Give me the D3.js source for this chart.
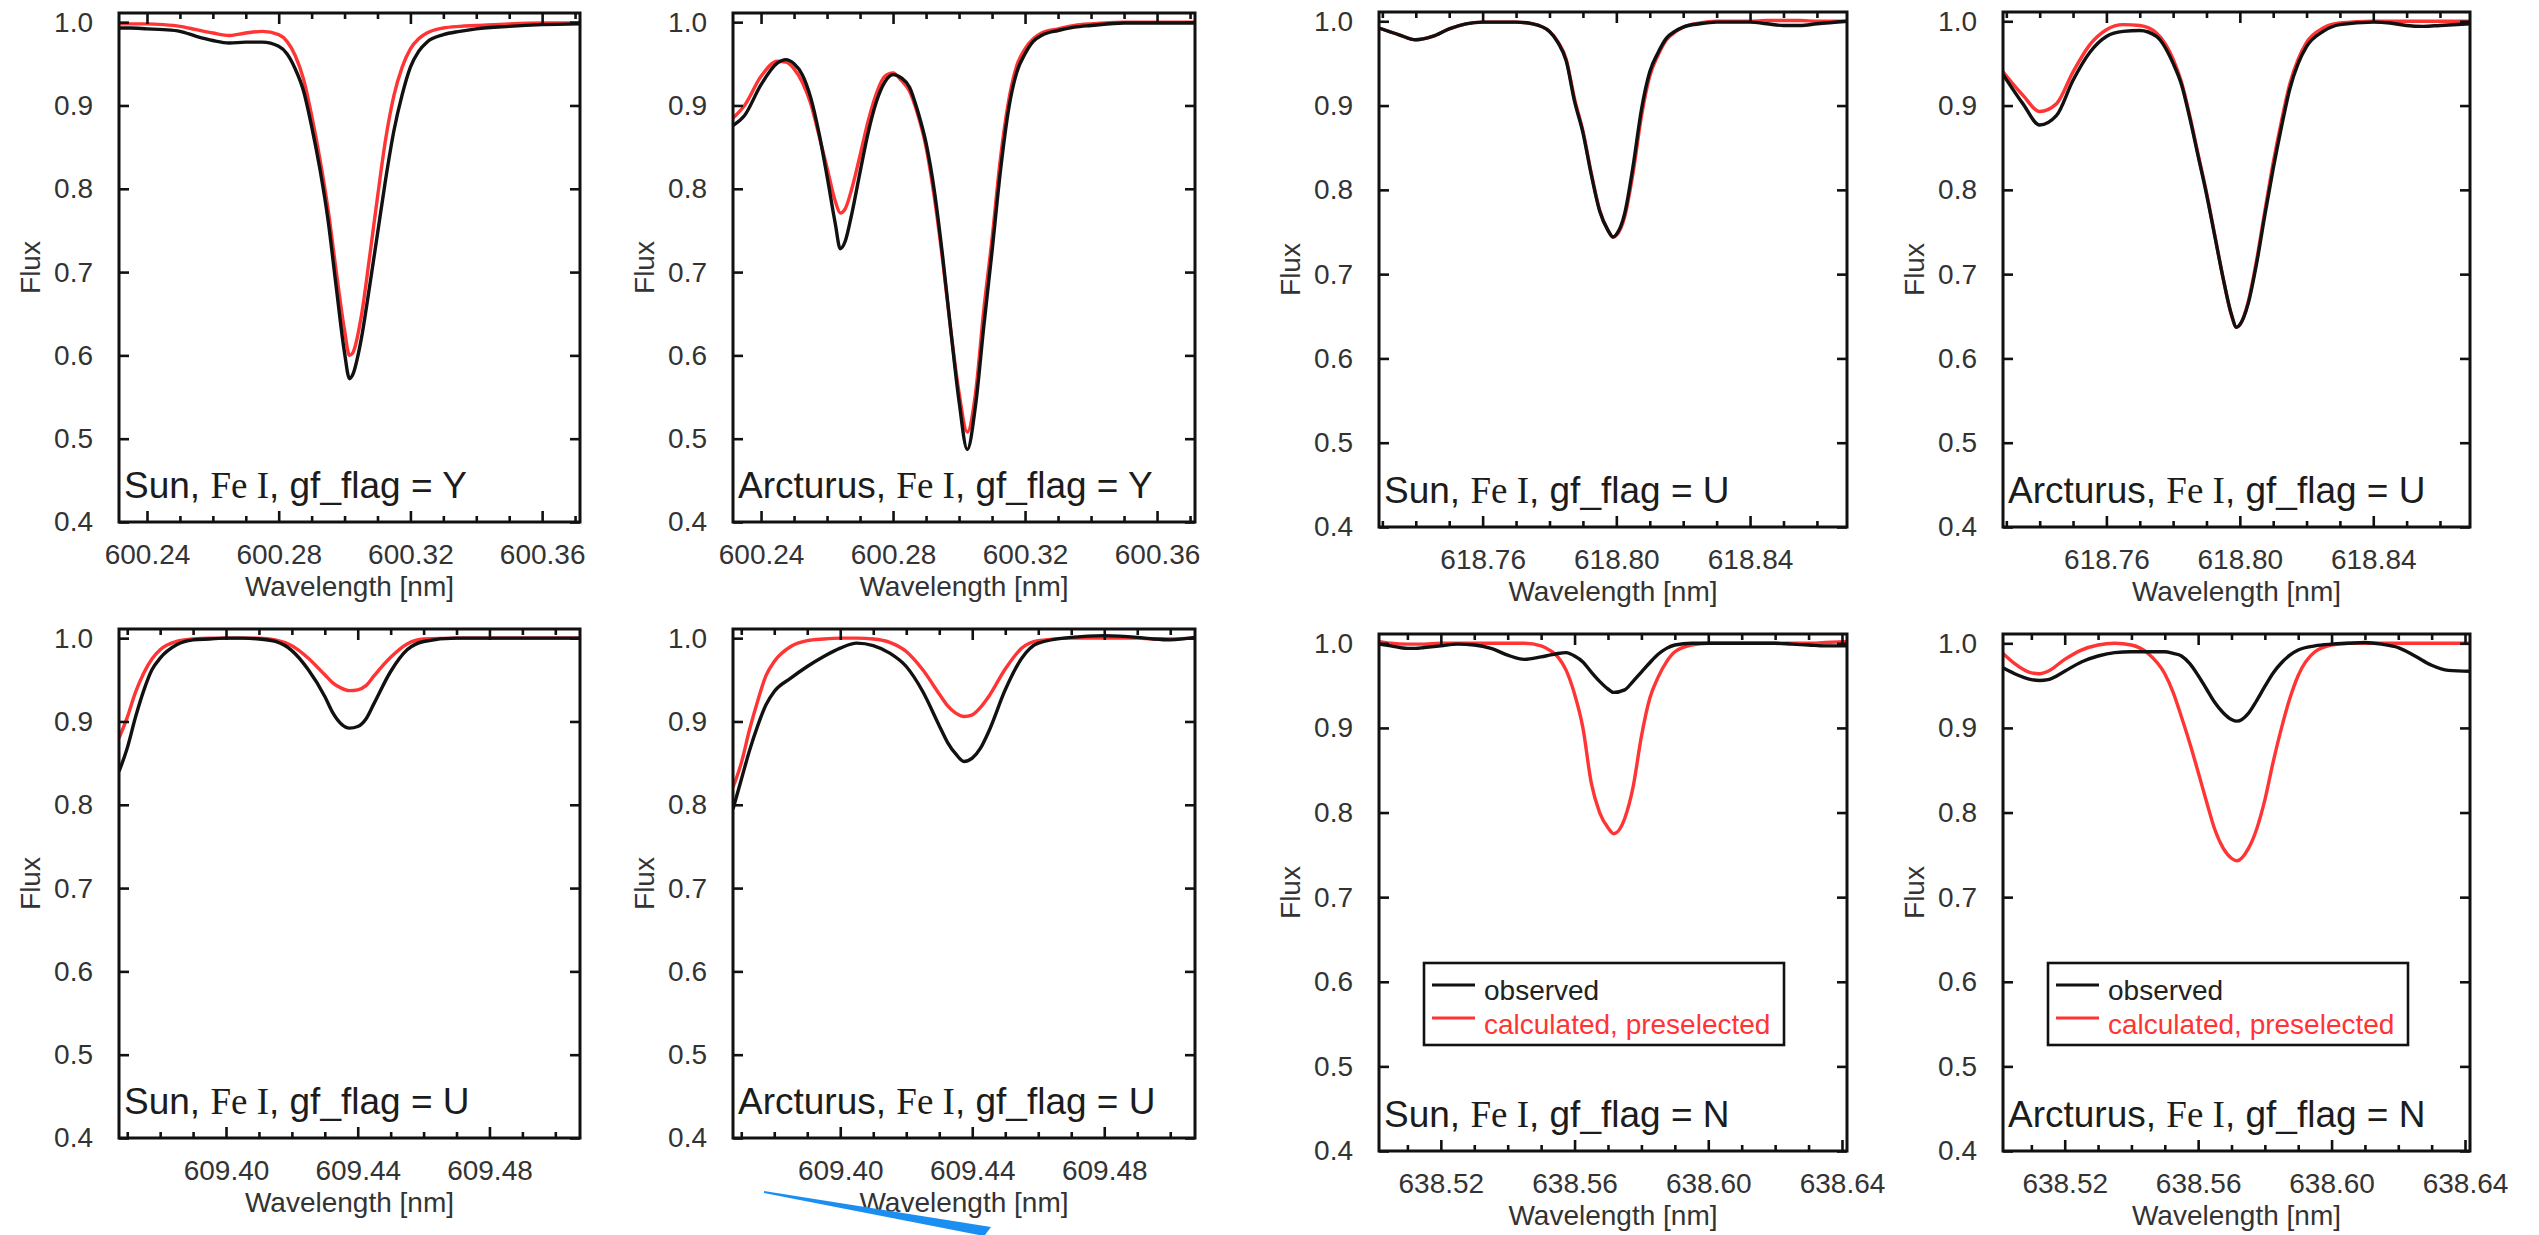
<!DOCTYPE html>
<html>
<head>
<meta charset="utf-8">
<script src="https://cdn.jsdelivr.net/npm/d3@7"></script>
<style>
  html, body { margin: 0; padding: 0; background: #fff; }
  svg { display: block; }
</style>
</head>
<body>
<svg id="chart" width="2539" height="1235"></svg>
<script>
// ---------- spectra: wavelength grids [nm] and normalised flux ----------

// Fe I 600.30 nm
const wave6003 = [600.2315, 600.235, 600.24, 600.245, 600.25, 600.255, 600.26, 600.265, 600.27, 600.275,
  600.28, 600.2825, 600.285, 600.2875, 600.29, 600.2925, 600.295, 600.2975, 600.30, 600.3015,
  600.3025, 600.305, 600.3075, 600.31, 600.3125, 600.315, 600.3175, 600.32, 600.3225, 600.325,
  600.33, 600.335, 600.34, 600.35, 600.36, 600.3715];
const obsSun6003 = [0.993, 0.993, 0.992, 0.991, 0.989, 0.983, 0.978, 0.975, 0.976, 0.976,
  0.971, 0.962, 0.944, 0.918, 0.875, 0.824, 0.762, 0.681, 0.603, 0.572,
  0.577, 0.618, 0.680, 0.746, 0.812, 0.870, 0.913, 0.946, 0.965, 0.976,
  0.985, 0.989, 0.992, 0.995, 0.997, 0.998];
const calcSun6003 = [0.998, 0.998, 0.998, 0.997, 0.995, 0.991, 0.987, 0.984, 0.987, 0.989,
  0.985, 0.977, 0.960, 0.932, 0.888, 0.836, 0.775, 0.700, 0.630, 0.600,
  0.603, 0.645, 0.715, 0.790, 0.860, 0.912, 0.946, 0.968, 0.980, 0.987,
  0.993, 0.995, 0.996, 0.998, 0.999, 0.999];

const waveArc6003 = [600.2315, 600.235, 600.24, 600.245, 600.2475, 600.25, 600.2525, 600.255, 600.2575, 600.26,
  600.2625, 600.264, 600.2655, 600.2675, 600.27, 600.2725, 600.275, 600.2775, 600.28, 600.2825,
  600.285, 600.2875, 600.29, 600.2925, 600.295, 600.2975, 600.30, 600.3025, 600.305, 600.3075,
  600.31, 600.3125, 600.315, 600.3175, 600.32, 600.3225, 600.325, 600.33, 600.335, 600.34,
  600.35, 600.36, 600.3715];
const obsArc6003 = [0.876, 0.888, 0.925, 0.951, 0.955, 0.950, 0.937, 0.910, 0.868, 0.815,
  0.758, 0.728, 0.737, 0.770, 0.820, 0.868, 0.905, 0.928, 0.937, 0.933,
  0.922, 0.893, 0.855, 0.798, 0.720, 0.630, 0.545, 0.487, 0.540, 0.635,
  0.725, 0.820, 0.895, 0.940, 0.962, 0.977, 0.984, 0.990, 0.994, 0.996,
  0.999, 0.999, 0.999];
const calcArc6003 = [0.885, 0.900, 0.935, 0.953, 0.952, 0.944, 0.928, 0.903, 0.865, 0.825,
  0.785, 0.771, 0.776, 0.800, 0.840, 0.882, 0.915, 0.935, 0.939, 0.930,
  0.917, 0.889, 0.850, 0.790, 0.715, 0.630, 0.555, 0.508, 0.555, 0.655,
  0.740, 0.835, 0.905, 0.948, 0.968, 0.980, 0.987, 0.992, 0.996, 0.998,
  1.000, 1.000, 1.000];

// Fe I 618.80 nm
const wave6188 = [618.729, 618.735, 618.74, 618.745, 618.75, 618.755, 618.76, 618.765, 618.77, 618.775,
  618.78, 618.7825, 618.785, 618.7875, 618.79, 618.7925, 618.795, 618.7975, 618.799, 618.80,
  618.8025, 618.805, 618.8075, 618.81, 618.8125, 618.815, 618.8175, 618.82, 618.825, 618.83,
  618.84, 618.845, 618.85, 618.855, 618.86, 618.869];
const obsSun6188 = [0.992, 0.984, 0.978, 0.982, 0.991, 0.997, 0.999, 0.999, 0.999, 0.997,
  0.988, 0.975, 0.953, 0.905, 0.868, 0.818, 0.775, 0.752, 0.744, 0.747,
  0.772, 0.828, 0.895, 0.940, 0.963, 0.980, 0.988, 0.993, 0.997, 0.999,
  0.999, 0.997, 0.995, 0.995, 0.997, 1.000];
const calcSun6188 = [0.992, 0.984, 0.978, 0.982, 0.991, 0.997, 0.999, 0.999, 0.999, 0.997,
  0.988, 0.976, 0.955, 0.908, 0.870, 0.820, 0.776, 0.752, 0.744, 0.746,
  0.768, 0.820, 0.887, 0.935, 0.960, 0.978, 0.987, 0.993, 0.998, 1.000,
  1.000, 1.001, 1.001, 1.001, 1.000, 1.000];
const obsArc6188 = [0.937, 0.902, 0.877, 0.888, 0.930, 0.963, 0.982, 0.988, 0.989, 0.982,
  0.950, 0.925, 0.885, 0.840, 0.795, 0.745, 0.695, 0.652, 0.637, 0.640,
  0.665, 0.712, 0.770, 0.825, 0.875, 0.920, 0.950, 0.970, 0.988, 0.996,
  0.999, 0.998, 0.995, 0.994, 0.995, 0.997];
const calcArc6188 = [0.940, 0.912, 0.893, 0.902, 0.940, 0.972, 0.990, 0.996, 0.995, 0.986,
  0.955, 0.928, 0.888, 0.842, 0.797, 0.746, 0.695, 0.651, 0.637, 0.640,
  0.667, 0.716, 0.775, 0.832, 0.882, 0.926, 0.955, 0.975, 0.992, 0.998,
  1.000, 1.000, 1.000, 1.000, 1.000, 1.000];

// Fe I 609.44 nm
const wave6094 = [609.3675, 609.37, 609.3725, 609.375, 609.3775, 609.38, 609.385, 609.39, 609.395, 609.40,
  609.405, 609.41, 609.415, 609.42, 609.425, 609.43, 609.4325, 609.435, 609.4375, 609.44,
  609.4425, 609.445, 609.45, 609.455, 609.46, 609.47, 609.48, 609.49, 609.495, 609.50, 609.5075];
const obsSun6094 = [0.840, 0.868, 0.905, 0.937, 0.962, 0.976, 0.992, 0.998, 0.999, 1.000,
  1.000, 0.999, 0.996, 0.985, 0.962, 0.930, 0.910, 0.897, 0.892, 0.894,
  0.903, 0.922, 0.960, 0.986, 0.996, 1.000, 1.000, 1.000, 1.000, 1.000, 1.000];
const calcSun6094 = [0.880, 0.905, 0.935, 0.958, 0.975, 0.986, 0.996, 0.999, 1.000, 1.000,
  1.000, 1.000, 0.998, 0.991, 0.976, 0.956, 0.946, 0.940, 0.937, 0.938,
  0.943, 0.955, 0.977, 0.993, 0.999, 1.000, 1.000, 1.000, 1.000, 1.000, 1.000];
const obsArc6094 = [0.795, 0.830, 0.865, 0.895, 0.920, 0.936, 0.952, 0.966, 0.978, 0.988,
  0.994, 0.991, 0.982, 0.966, 0.936, 0.895, 0.875, 0.861, 0.852, 0.856,
  0.868, 0.888, 0.938, 0.976, 0.994, 1.001, 1.003, 1.001, 0.999, 0.998, 1.001];
const calcArc6094 = [0.821, 0.850, 0.890, 0.925, 0.955, 0.972, 0.990, 0.997, 0.999, 1.000,
  1.000, 0.999, 0.995, 0.984, 0.962, 0.933, 0.919, 0.910, 0.906, 0.908,
  0.917, 0.930, 0.963, 0.988, 0.997, 1.000, 1.000, 1.000, 0.999, 0.999, 1.000];

// Fe I 638.57 nm
const wave6386 = [638.5015, 638.505, 638.51, 638.5125, 638.515, 638.52, 638.525, 638.53, 638.535, 638.54,
  638.545, 638.55, 638.5525, 638.555, 638.5575, 638.56, 638.5625, 638.565, 638.5675, 638.57,
  638.5717, 638.575, 638.5775, 638.58, 638.5825, 638.585, 638.5875, 638.59, 638.595, 638.60,
  638.605, 638.61, 638.615, 638.62, 638.625, 638.63, 638.635, 638.6415];
const obsSun6386 = [0.999, 0.997, 0.994, 0.994, 0.995, 0.997, 0.999, 0.998, 0.994, 0.986,
  0.981, 0.984, 0.986, 0.988, 0.989, 0.985, 0.978, 0.966, 0.955, 0.946,
  0.942, 0.945, 0.955, 0.966, 0.977, 0.987, 0.994, 0.998, 1.000, 1.000,
  1.000, 1.000, 1.000, 1.000, 0.999, 0.998, 0.997, 0.997];
const calcSun6386 = [1.002, 1.000, 0.999, 0.999, 0.999, 1.000, 1.000, 1.000, 1.000, 1.000,
  1.000, 0.997, 0.992, 0.984, 0.968, 0.940, 0.900, 0.835, 0.800, 0.782,
  0.775, 0.793, 0.830, 0.890, 0.935, 0.960, 0.978, 0.990, 0.998, 1.000,
  1.000, 1.000, 1.000, 1.000, 1.000, 1.000, 1.001, 1.002];
const obsArc6386 = [0.971, 0.964, 0.957, 0.956, 0.957, 0.967, 0.978, 0.985, 0.989, 0.990,
  0.990, 0.990, 0.988, 0.985, 0.976, 0.962, 0.946, 0.930, 0.918, 0.910,
  0.908, 0.917, 0.932, 0.949, 0.965, 0.977, 0.986, 0.992, 0.997, 0.999,
  1.000, 1.001, 0.999, 0.995, 0.985, 0.974, 0.968, 0.967];
const calcArc6386 = [0.988, 0.976, 0.965, 0.964, 0.967, 0.981, 0.992, 0.998, 1.000, 0.998,
  0.988, 0.964, 0.942, 0.913, 0.882, 0.848, 0.813, 0.780, 0.758, 0.746,
  0.743, 0.757, 0.780, 0.815, 0.860, 0.900, 0.935, 0.962, 0.990, 0.998,
  1.000, 1.000, 1.000, 1.000, 1.000, 1.000, 1.000, 1.000];

// ---------- axes ----------
const fluxRange = [0.4, 1.011];
const fluxTicks = [0.4, 0.5, 0.6, 0.7, 0.8, 0.9, 1.0];
const range6003 = [600.2315, 600.3715];
const range6188 = [618.729, 618.869];
const range6094 = [609.3675, 609.5075];
const range6386 = [638.5015, 638.6415];
const ticks6003 = [600.24, 600.28, 600.32, 600.36];
const ticks6188 = [618.76, 618.80, 618.84];
const ticks6094 = [609.40, 609.44, 609.48];
const ticks6386 = [638.52, 638.56, 638.60, 638.64];

const seriesNames = ["observed", "calculated, preselected"];

const panels = [
  { star: "Sun",      flag: "Y", wave: wave6003,    obs: obsSun6003, calc: calcSun6003, xr: range6003, xt: ticks6003 },
  { star: "Arcturus", flag: "Y", wave: waveArc6003, obs: obsArc6003, calc: calcArc6003, xr: range6003, xt: ticks6003 },
  { star: "Sun",      flag: "U", wave: wave6188,    obs: obsSun6188, calc: calcSun6188, xr: range6188, xt: ticks6188 },
  { star: "Arcturus", flag: "U", wave: wave6188,    obs: obsArc6188, calc: calcArc6188, xr: range6188, xt: ticks6188 },
  { star: "Sun",      flag: "U", wave: wave6094,    obs: obsSun6094, calc: calcSun6094, xr: range6094, xt: ticks6094 },
  { star: "Arcturus", flag: "U", wave: wave6094,    obs: obsArc6094, calc: calcArc6094, xr: range6094, xt: ticks6094 },
  { star: "Sun",      flag: "N", wave: wave6386,    obs: obsSun6386, calc: calcSun6386, xr: range6386, xt: ticks6386, legend: true },
  { star: "Arcturus", flag: "N", wave: wave6386,    obs: obsArc6386, calc: calcArc6386, xr: range6386, xt: ticks6386, legend: true }
];

// plot frames: [left, top, right, bottom] in page pixels
const frames = [
  [119, 13, 580, 522], [733, 13, 1195, 522], [1379, 12, 1847, 527], [2003, 12, 2470, 527],
  [119, 629, 580, 1138], [733, 629, 1195, 1138], [1379, 634, 1847, 1151], [2003, 634, 2470, 1151]
];

const SANS = "'Liberation Sans', Arial, Helvetica, sans-serif";
const SERIF = "'Liberation Serif', 'Times New Roman', serif";
const INK = "#111";
const LABEL = "#333";
const RED = "#ff3434";

const svg = d3.select("#chart");
svg.append("rect").attr("width", 2539).attr("height", 1235).attr("fill", "#fff");

function styleAxis(sel) {
  sel.select(".domain").remove();
  sel.selectAll(".tick line").attr("stroke", INK).attr("stroke-width", 2.6);
  sel.selectAll(".tick text")
    .attr("fill", LABEL)
    .style("font-family", SANS)
    .style("font-size", "28px");
}

panels.forEach((p, i) => {
  const [L, T, R, B] = frames[i];
  const x = d3.scaleLinear().domain(p.xr).range([L, R]);
  const y = d3.scaleLinear().domain(fluxRange).range([B, T]);
  const g = svg.append("g").attr("class", "panel");

  const clipId = "clip" + i;
  g.append("clipPath").attr("id", clipId)
    .append("rect").attr("x", L).attr("y", T).attr("width", R - L).attr("height", B - T);

  const line = d3.line()
    .x(d => x(d[0]))
    .y(d => y(d[1]))
    .curve(d3.curveMonotoneX);

  const curves = g.append("g").attr("clip-path", `url(#${clipId})`);
  curves.append("path")
    .datum(d3.zip(p.wave, p.calc))
    .attr("d", line)
    .attr("fill", "none").attr("stroke", RED).attr("stroke-width", 3.4)
    .attr("stroke-linejoin", "round");
  curves.append("path")
    .datum(d3.zip(p.wave, p.obs))
    .attr("d", line)
    .attr("fill", "none").attr("stroke", INK).attr("stroke-width", 3.4)
    .attr("stroke-linejoin", "round");

  // minor wavelength ticks every 0.01 nm
  const minor = d3.range(Math.ceil(p.xr[0] * 100 - 1e-6), Math.floor(p.xr[1] * 100 + 1e-6) + 1)
    .map(v => v / 100)
    .filter(v => !p.xt.some(t => Math.abs(t - v) < 1e-6));

  g.append("g").attr("transform", `translate(0,${B})`)
    .call(d3.axisBottom(x).tickValues(p.xt).tickFormat(d3.format(".2f"))
      .tickSize(-11).tickSizeOuter(0).tickPadding(22))
    .call(styleAxis);
  g.append("g").attr("transform", `translate(0,${B})`)
    .call(d3.axisBottom(x).tickValues(minor).tickFormat("").tickSize(-6).tickSizeOuter(0))
    .call(styleAxis);
  g.append("g").attr("transform", `translate(0,${T})`)
    .call(d3.axisTop(x).tickValues(p.xt).tickFormat("").tickSize(-11).tickSizeOuter(0))
    .call(styleAxis);
  g.append("g").attr("transform", `translate(0,${T})`)
    .call(d3.axisTop(x).tickValues(minor).tickFormat("").tickSize(-6).tickSizeOuter(0))
    .call(styleAxis);
  g.append("g").attr("transform", `translate(${L},0)`)
    .call(d3.axisLeft(y).tickValues(fluxTicks).tickFormat(d3.format(".1f"))
      .tickSize(-10).tickSizeOuter(0).tickPadding(26))
    .call(styleAxis);
  g.append("g").attr("transform", `translate(${R},0)`)
    .call(d3.axisRight(y).tickValues(fluxTicks).tickFormat("").tickSize(-10).tickSizeOuter(0))
    .call(styleAxis);

  g.append("rect")
    .attr("x", L).attr("y", T).attr("width", R - L).attr("height", B - T)
    .attr("fill", "none").attr("stroke", INK).attr("stroke-width", 3);

  // axis titles
  g.append("text")
    .attr("x", (L + R) / 2).attr("y", B + 64).attr("dy", "0.35em")
    .attr("text-anchor", "middle").attr("fill", LABEL)
    .style("font-family", SANS).style("font-size", "28px")
    .text("Wavelength [nm]");
  g.append("text")
    .attr("transform", `translate(${L - 89},${(T + B) / 2}) rotate(-90)`)
    .attr("dy", "0.35em").attr("text-anchor", "middle").attr("fill", LABEL)
    .style("font-family", SANS).style("font-size", "28px")
    .text("Flux");

  // star / species / flag caption
  const cap = g.append("text")
    .attr("x", L + 5).attr("y", B - 24)
    .attr("fill", "#1c1c1c")
    .style("font-family", SANS).style("font-size", "37px")
    .style("white-space", "pre");
  cap.append("tspan").text(p.star + ", ");
  cap.append("tspan").style("font-family", SERIF).text("Fe I");
  cap.append("tspan").text(", gf_flag = " + p.flag);

  if (p.legend) {
    const lx = L + 45, ly = T + 329;
    const lg = g.append("g");
    lg.append("rect")
      .attr("x", lx).attr("y", ly).attr("width", 360).attr("height", 82)
      .attr("fill", "#fff").attr("stroke", INK).attr("stroke-width", 2.6);
    const rows = [
      { name: seriesNames[0], color: INK, text: "#222", ly: 22, ty: 37 },
      { name: seriesNames[1], color: RED, text: RED, ly: 55, ty: 71 }
    ];
    rows.forEach(r => {
      lg.append("line")
        .attr("x1", lx + 8).attr("x2", lx + 51)
        .attr("y1", ly + r.ly).attr("y2", ly + r.ly)
        .attr("stroke", r.color).attr("stroke-width", 3);
      lg.append("text")
        .attr("x", lx + 60).attr("y", ly + r.ty)
        .attr("fill", r.text)
        .style("font-family", SANS).style("font-size", "28px")
        .text(r.name);
    });
  }
});

// blue pen stroke along the lower edge
svg.append("path")
  .attr("d", "M764,1191 L991,1227 L985,1235 L979,1235 L764,1193 Z")
  .attr("fill", "#1b8ef2");
</script>
</body>
</html>
